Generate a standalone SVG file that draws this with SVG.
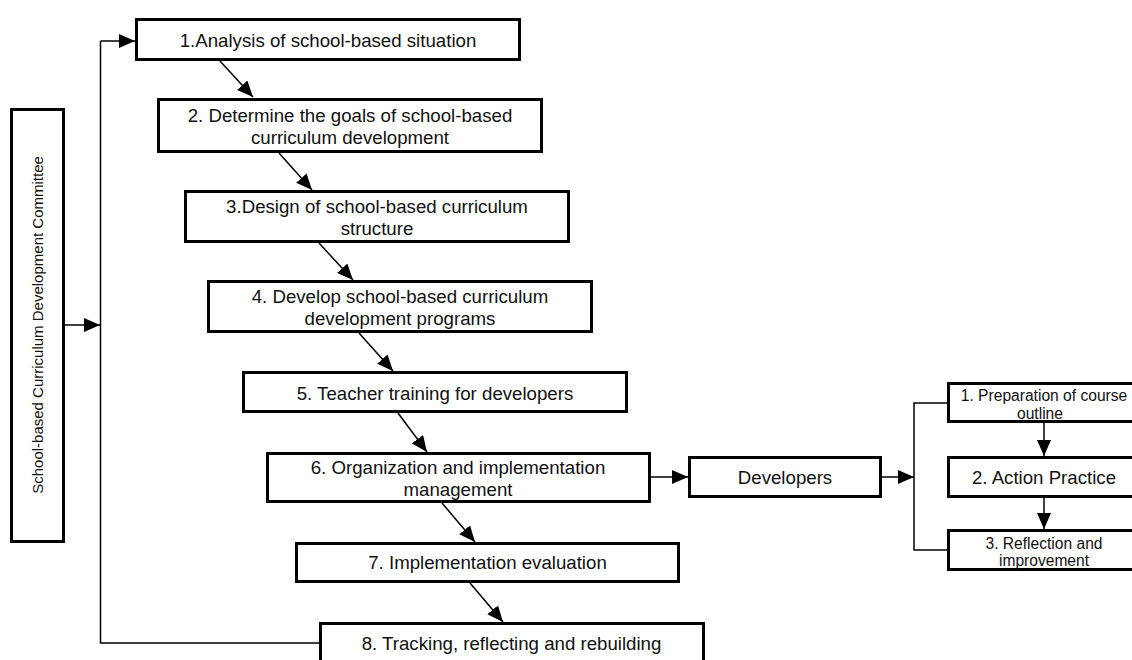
<svg xmlns="http://www.w3.org/2000/svg" width="1132" height="660" viewBox="0 0 1132 660">
<style>
.box{fill:#fff;stroke:#000;stroke-width:3}
.t{font-family:"Liberation Sans",Arial,sans-serif;font-size:18.67px;fill:#111;text-anchor:middle}
.s{font-size:15.6px}
.c{font-size:15px}
.ln{fill:none;stroke:#000;stroke-width:1.5}
.ar{marker-end:url(#ah)}
</style>
<defs>
<marker id="ah" viewBox="0 0 16 14" refX="16" refY="7" markerWidth="16" markerHeight="14" markerUnits="userSpaceOnUse" orient="auto">
<path d="M0,0 L16,7 L0,14 z" fill="#000"/>
</marker>
</defs>
<rect width="1132" height="660" fill="#fff"/>
<g id="connectors">
<line class="ln ar" x1="64" y1="325" x2="100" y2="325"/>
<polyline class="ln" points="319,643 100.5,643 100.5,41"/>
<line class="ln ar" x1="100.5" y1="41" x2="135" y2="41"/>
<line class="ln ar" x1="220" y1="61" x2="253" y2="97"/>
<line class="ln ar" x1="279" y1="153" x2="312" y2="190"/>
<line class="ln ar" x1="319" y1="243" x2="353" y2="280"/>
<line class="ln ar" x1="359" y1="333" x2="393" y2="371"/>
<line class="ln ar" x1="398" y1="413" x2="427" y2="452"/>
<line class="ln ar" x1="442" y1="503" x2="475" y2="542"/>
<line class="ln ar" x1="470" y1="583" x2="503" y2="622"/>
<line class="ln ar" x1="650" y1="477" x2="688" y2="477"/>
<line class="ln ar" x1="880" y1="477" x2="914" y2="477"/>
<polyline class="ln" points="947,403 914,403 914,550 947,550"/>
<line class="ln ar" x1="1044" y1="423" x2="1044" y2="456"/>
<line class="ln ar" x1="1044" y1="497" x2="1044" y2="529"/>
</g>
<g id="committee">
<rect class="box" x="11.5" y="109.5" width="52" height="432"/>
<text class="t c" transform="translate(43,325) rotate(-90)" x="0" y="0">School-based Curriculum Development Committee</text>
</g>
<g id="step1">
<rect class="box" x="136.5" y="19.5" width="383" height="40"/>
<text class="t" x="328" y="47">1.Analysis of school-based situation</text>
</g>
<g id="step2">
<rect class="box" x="158.5" y="99.5" width="383" height="52"/>
<text class="t" x="350" y="121.5">2. Determine the goals of school-based</text>
<text class="t" x="350" y="144">curriculum development</text>
</g>
<g id="step3">
<rect class="box" x="185.5" y="191.5" width="383" height="50"/>
<text class="t" x="377" y="213">3.Design of school-based curriculum</text>
<text class="t" x="377" y="234.5">structure</text>
</g>
<g id="step4">
<rect class="box" x="208.5" y="281.5" width="383" height="50"/>
<text class="t" x="400" y="303">4. Develop school-based curriculum</text>
<text class="t" x="400" y="325">development programs</text>
</g>
<g id="step5">
<rect class="box" x="243.5" y="372.5" width="383" height="39"/>
<text class="t" x="435" y="399.5">5. Teacher training for developers</text>
</g>
<g id="step6">
<rect class="box" x="267.5" y="453.5" width="382" height="48"/>
<text class="t" x="458" y="473.5">6. Organization and implementation</text>
<text class="t" x="458" y="495.5">management</text>
</g>
<g id="step7">
<rect class="box" x="296.5" y="543.5" width="382" height="38"/>
<text class="t" x="487.5" y="569">7. Implementation evaluation</text>
</g>
<g id="step8">
<rect class="box" x="320.5" y="623.5" width="383" height="50"/>
<text class="t" x="511.5" y="650">8. Tracking, reflecting and rebuilding</text>
</g>
<g id="developers">
<rect class="box" x="689.5" y="457.5" width="191" height="39"/>
<text class="t" x="785" y="483.5">Developers</text>
</g>
<g id="sub1">
<rect class="box" x="948.5" y="383.5" width="200" height="38"/>
<text class="t s" x="1044" y="400.5">1. Preparation of course</text>
<text class="t s" x="1040" y="418.5">outline</text>
</g>
<g id="sub2">
<rect class="box" x="948.5" y="457.5" width="200" height="39"/>
<text class="t" x="1044" y="483.5">2. Action Practice</text>
</g>
<g id="sub3">
<rect class="box" x="948.5" y="530.5" width="200" height="39"/>
<text class="t s" x="1044" y="548.5">3. Reflection and</text>
<text class="t s" x="1044" y="566">improvement</text>
</g>
</svg>
